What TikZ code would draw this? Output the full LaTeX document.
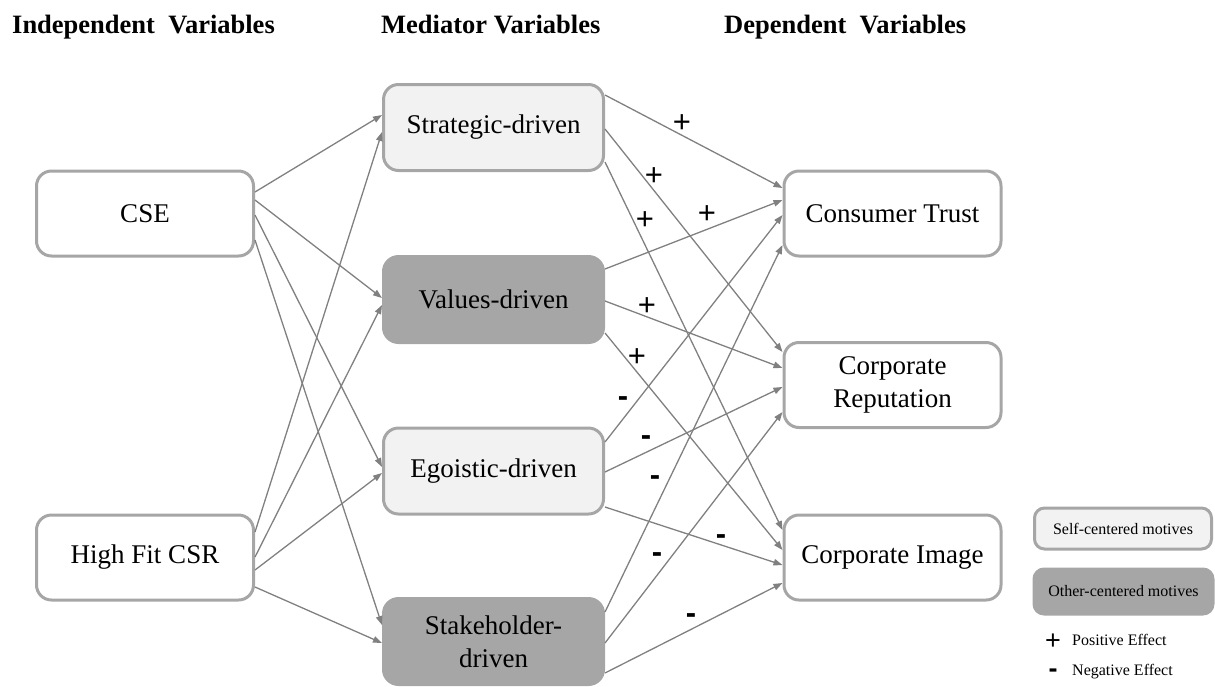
\documentclass[tikz,border=0pt]{standalone}
\usepackage{fontspec}
\setmainfont{Liberation Serif}
\newfontfamily\sansf{Liberation Sans}
\usetikzlibrary{arrows.meta,calc}
\definecolor{bordergray}{HTML}{A6A6A6}
\definecolor{linegray}{HTML}{808080}
\definecolor{selffill}{HTML}{F2F2F2}
\definecolor{otherfill}{HTML}{A6A6A6}
\begin{document}
\begin{tikzpicture}[x=1pt,y=-1pt,
 box/.style={draw=bordergray, line width=3pt, rounded corners=15pt, minimum width=217pt, minimum height=85pt, align=center, font=\fontsize{27}{33}\selectfont, inner sep=0pt},
 medbox/.style={box, minimum width=220pt, minimum height=86pt},
 selfbox/.style={medbox, fill=selffill},
 otherbox/.style={medbox, fill=otherfill, draw=otherfill},
 plainbox/.style={box, fill=white},
 link/.style={draw=linegray, line width=1.3pt, -{Triangle[length=9pt,width=6.5pt]}},
 sign/.style={font=\sansf\fontsize{31}{31}\selectfont, inner sep=0pt},
 msign/.style={font=\sansf\bfseries\fontsize{31}{31}\selectfont, inner sep=0pt},
 legsign/.style={font=\sansf\fontsize{27}{27}\selectfont, inner sep=0pt},
 legmsign/.style={font=\sansf\bfseries\fontsize{27}{27}\selectfont, inner sep=0pt},
 legtext/.style={font=\fontsize{16}{18}\selectfont, anchor=west, inner sep=0pt},
 legbox/.style={line width=3pt, rounded corners=10pt, minimum width=177pt, minimum height=41pt, inner sep=0pt, font=\fontsize{16}{18}\selectfont},
 title/.style={font=\bfseries\fontsize{26.5}{30}\selectfont, anchor=base west, inner sep=0pt}
]
\useasboundingbox (0,0) rectangle (1215,686);

% titles
\node[title] (t1) at (12,33) {Independent\ \ Variables};
\node[title] (t2) at (381,33) {Mediator Variables};
\node[title] (t3) at (724,33) {Dependent\ \ Variables};

% independent
\node[plainbox] (cse) at (145,213.5) {CSE};
\node[plainbox] (hf) at (145,557.5) {High Fit CSR};

% mediators
\node[selfbox] (str) at (493.5,127.5) {Strategic-driven};
\node[otherbox] (val) at (493.5,299.5) {Values-driven};
\node[selfbox] (ego) at (493.5,471) {Egoistic-driven};
\node[otherbox] (stk) at (493.5,641.5) {Stakeholder-\\driven};

% dependent
\node[plainbox] (ct) at (892.5,213.5) {Consumer Trust};
\node[plainbox] (cr) at (892.5,385) {Corporate\\Reputation};
\node[plainbox] (ci) at (892.5,557.5) {Corporate Image};

% left links
\draw[link] ($(cse.east)+(0,-21.5)$) -- ($(str.west)+(0,-12.5)$);
\draw[link] ($(cse.east)+(0,-13.5)$) -- ($(val.west)+(0,-1.5)$);
\draw[link] ($(cse.east)+(0,1.5)$) -- ($(ego.west)+(0,-4)$);
\draw[link] ($(cse.east)+(0,26.5)$) -- ($(stk.west)+(0,-16.5)$);
\draw[link] ($(hf.east)+(0,-25.5)$) -- ($(str.west)+(0,4.5)$);
\draw[link] ($(hf.east)+(0,-0.5)$) -- ($(val.west)+(0,5.5)$);
\draw[link] ($(hf.east)+(0,12.5)$) -- ($(ego.west)+(0,2)$);
\draw[link] ($(hf.east)+(0,29.5)$) -- ($(stk.west)+(0,1.5)$);

% right links
\draw[link] ($(str.east)+(0,-32.5)$) -- ($(ct.west)+(0,-25.5)$);
\draw[link] ($(str.east)+(0,1.5)$) -- ($(cr.west)+(0,-33)$);
\draw[link] ($(str.east)+(0,34.5)$) -- ($(ci.west)+(0,-27.5)$);
\draw[link] ($(val.east)+(0,-30.5)$) -- ($(ct.west)+(0,-13.5)$);
\draw[link] ($(val.east)+(0,1.5)$) -- ($(cr.west)+(0,-17)$);
\draw[link] ($(val.east)+(0,33.5)$) -- ($(ci.west)+(0,-7.5)$);
\draw[link] ($(ego.east)+(0,-29)$) -- ($(ct.west)+(0,1.5)$);
\draw[link] ($(ego.east)+(0,1)$) -- ($(cr.west)+(0,2)$);
\draw[link] ($(ego.east)+(0,36)$) -- ($(ci.west)+(0,7.5)$);
\draw[link] ($(stk.east)+(0,-29.5)$) -- ($(ct.west)+(0,31.5)$);
\draw[link] ($(stk.east)+(0,1.5)$) -- ($(cr.west)+(0,27)$);
\draw[link] ($(stk.east)+(0,31.5)$) -- ($(ci.west)+(0,25.5)$);

% signs
\node[sign] (p1) at (682,124) {+};
\node[sign] (p2) at (654,177) {+};
\node[sign] (p3) at (645,221) {+};
\node[sign] (p4) at (707,215) {+};
\node[sign] (p5) at (647,307) {+};
\node[sign] (p6) at (637,358) {+};
\node[msign] (m1) at (623,402) {-};
\node[msign] (m2) at (646,441) {-};
\node[msign] (m3) at (655,481) {-};
\node[msign] (m4) at (721,540) {-};
\node[msign] (m5) at (657,558) {-};
\node[msign] (m6) at (691,619) {-};

% legend
\node[legbox, draw=bordergray, fill=selffill] (lself) at (1123,528.5) {Self-centered motives};
\node[legbox, draw=otherfill, fill=otherfill, minimum width=179pt, minimum height=45pt] (lother) at (1123.5,591.5) {Other-centered motives};
\node[legsign] (lp) at (1053,642) {+};
\node[legtext] (lpt) at (1072,640) {Positive Effect};
\node[legmsign] (lm) at (1053,673) {-};
\node[legtext] (lmt) at (1072,672) {Negative Effect};
\end{tikzpicture}
\end{document}
